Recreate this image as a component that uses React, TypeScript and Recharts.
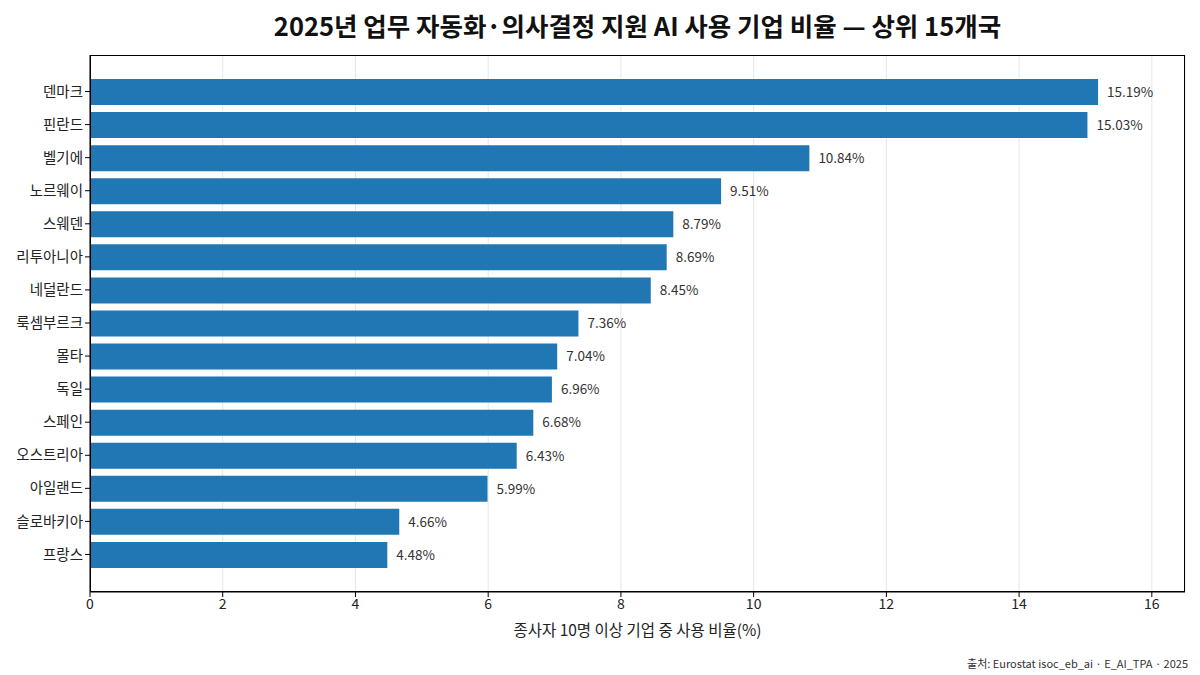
import { BarChart, Bar, XAxis, YAxis, CartesianGrid, LabelList } from 'recharts';

const countries = [
  '덴마크', '핀란드', '벨기에', '노르웨이', '스웨덴', '리투아니아', '네덜란드', '룩셈부르크',
  '몰타', '독일', '스페인', '오스트리아', '아일랜드', '슬로바키아', '프랑스',
];
const shares = [15.19, 15.03, 10.84, 9.51, 8.79, 8.69, 8.45, 7.36, 7.04, 6.96, 6.68, 6.43, 5.99, 4.66, 4.48];
const xTicks = [0, 2, 4, 6, 8, 10, 12, 14, 16];

const data = countries.map((country, i) => ({ country, share: shares[i] }));

const FONT = '"Noto Sans CJK KR", "Noto Sans", sans-serif';

export default function App() {
  return (
    <div style={{ position: 'absolute', left: 0, top: 0, width: 1200, height: 675, background: '#fff', fontFamily: FONT }}>
      <div
        style={{
          position: 'absolute', left: 90, width: 1095, top: 6, textAlign: 'center',
          fontSize: 25.5, fontWeight: 700, color: '#111',
        }}
      >
        2025년 업무 자동화·의사결정 지원 AI 사용 기업 비율 — 상위 15개국
      </div>
      <BarChart
        width={1200}
        height={675}
        data={data}
        layout="vertical"
        margin={{ top: 55, right: 15, bottom: 35, left: 0 }}
      >
        <CartesianGrid horizontal={false} stroke="#e6e6e6" />
        <XAxis
          type="number"
          domain={[0, 16.5]}
          ticks={xTicks}
          allowDataOverflow
          stroke="#000"
          tickSize={5}
          tick={{ fill: '#222', fontSize: 14, fontFamily: FONT }}
          label={{ value: '종사자 10명 이상 기업 중 사용 비율(%)', position: 'insideBottom', offset: 4, fill: '#222', fontSize: 15.5, fontFamily: FONT }}
          height={48}
        />
        <YAxis
          type="category"
          dataKey="country"
          width={90}
          padding={{ top: 20, bottom: 21 }}
          stroke="#000"
          tickSize={5}
          tick={{ fill: '#222', fontSize: 14.5, fontFamily: FONT }}
        />
        <Bar dataKey="share" fill="#2077b4" barSize={26} isAnimationActive={false}>
          <LabelList
            dataKey="share"
            position="right"
            offset={9}
            formatter={(v: number) => `${v.toFixed(2)}%`}
            style={{ fill: '#333', fontSize: 13.5, fontFamily: FONT }}
          />
        </Bar>
      </BarChart>
      <div
        style={{
          position: 'absolute', left: 90, top: 55, width: 1095, height: 537,
          boxSizing: 'border-box', border: '1px solid #000', pointerEvents: 'none',
        }}
      />
      <div style={{ position: 'absolute', right: 12, top: 655, fontSize: 11, color: '#333' }}>
        출처: Eurostat isoc_eb_ai · E_AI_TPA · 2025
      </div>
    </div>
  );
}
